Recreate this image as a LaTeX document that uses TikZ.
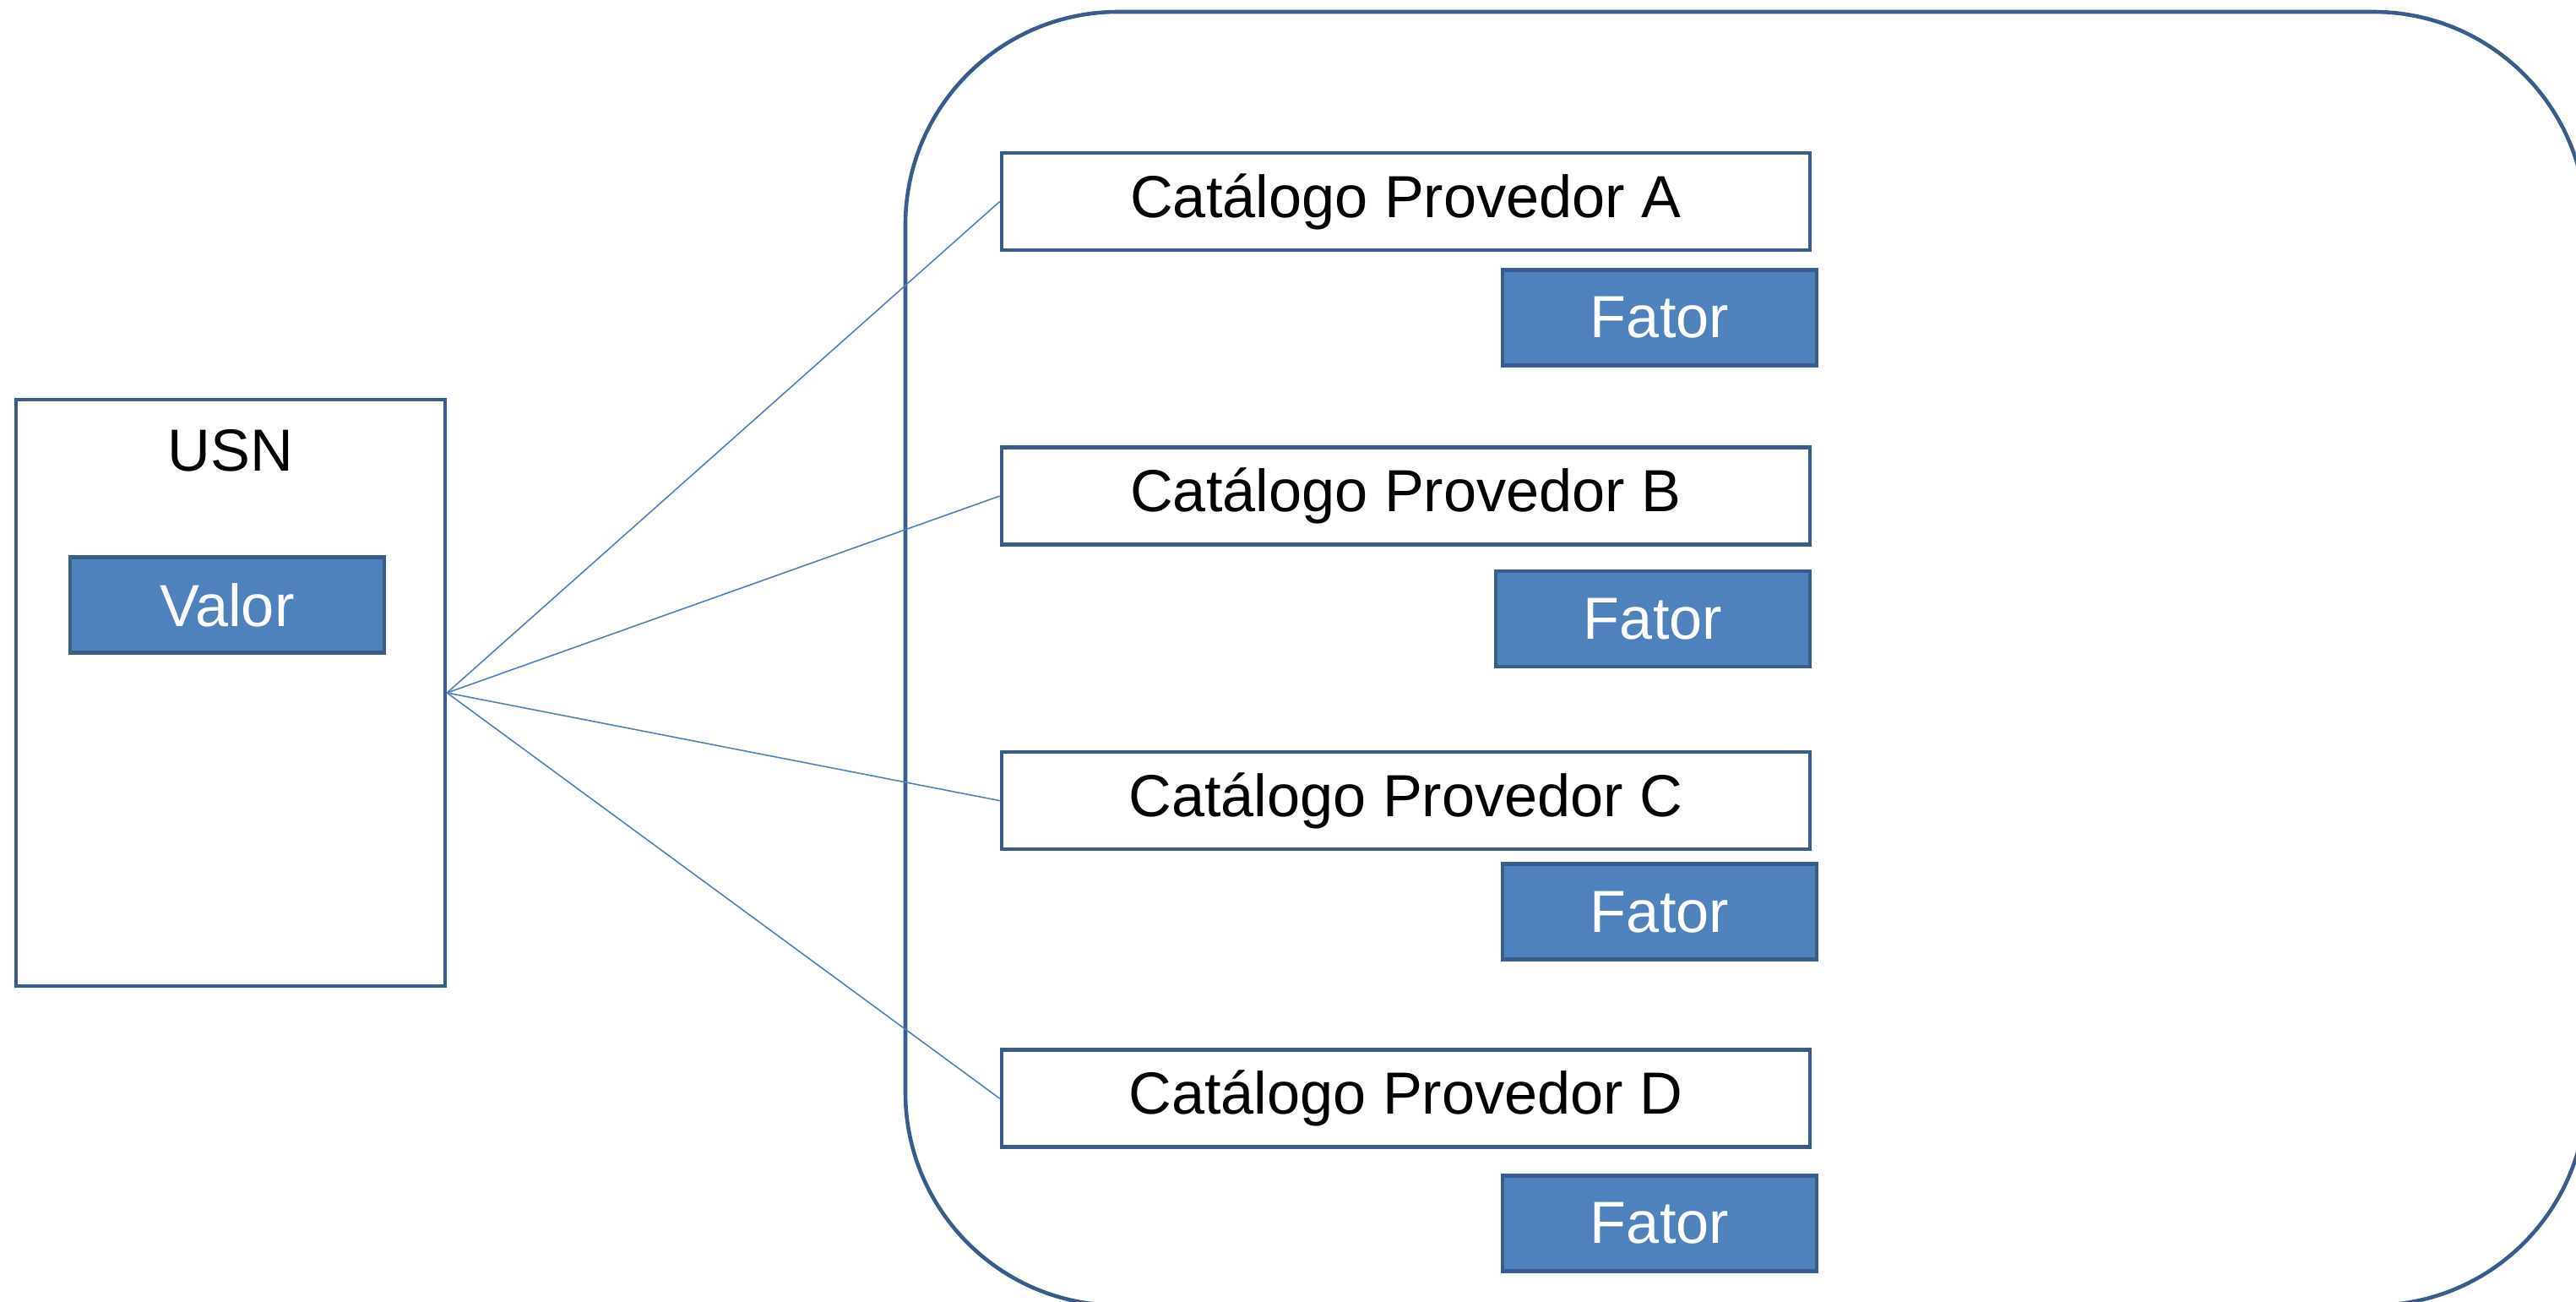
\documentclass[tikz,border=0pt]{standalone}
\usepackage{fontspec}
\setmainfont{Liberation Sans}
\usepackage{xcolor}
\usepackage{tikz}
\usetikzlibrary{arrows.meta,positioning}
\definecolor{bordo}{HTML}{385D8A}
\definecolor{azul}{HTML}{4F81BD}

\begin{document}
\begin{tikzpicture}[node distance=5mm, font=\fontsize{20}{24}\selectfont]
\tikzstyle{outer}=[draw=bordo, line width=1.3pt, fill=white]
\tikzstyle{cat}=[draw=bordo, line width=1.3pt, fill=white, minimum width=9.57cm, minimum height=1.15cm, inner sep=0pt]
\tikzstyle{val}=[draw=bordo, line width=1.3pt, fill=azul, text=white, minimum width=3.72cm, minimum height=1.13cm, inner sep=0pt]
\tikzstyle{link}=[draw=azul, line width=0.45pt]
\useasboundingbox (0,0) rectangle (30.5,15.4);

\node[draw=bordo, line width=1.3pt, rounded corners=2.52cm, minimum width=19.9cm, minimum height=15.31cm] (dom) at (20.67,7.605) {};

\node[outer, minimum width=5.08cm, minimum height=6.94cm] (usn) at (2.73,7.20) {};
\node[below=2.5mm of usn.north] (usnlbl) {USN};
\node[val, below=8.7mm of usnlbl, xshift=-0.4mm] (valor) {Valor};

\node[cat] (catA) at (16.645,13.015) {Catálogo Provedor A};
\node[cat, below=22.9mm of catA] (catB) {Catálogo Provedor B};
\node[cat, below=24.1mm of catB] (catC) {Catálogo Provedor C};
\node[cat, below=23.3mm of catC] (catD) {Catálogo Provedor D};

\node[val, below left=1.9mm and -0.8mm of catA.south east] (fatA) {Fator};
\node[val, below left=2.7mm and 0mm of catB.south east] (fatB) {Fator};
\node[val, below left=1.3mm and -0.8mm of catC.south east] (fatC) {Fator};
\node[val, below left=2.9mm and -0.8mm of catD.south east] (fatD) {Fator};

\draw[link] (usn.east) -- (catA.west);
\draw[link] (usn.east) -- (catB.west);
\draw[link] (usn.east) -- (catC.west);
\draw[link] (usn.east) -- (catD.west);
\end{tikzpicture}
\end{document}
